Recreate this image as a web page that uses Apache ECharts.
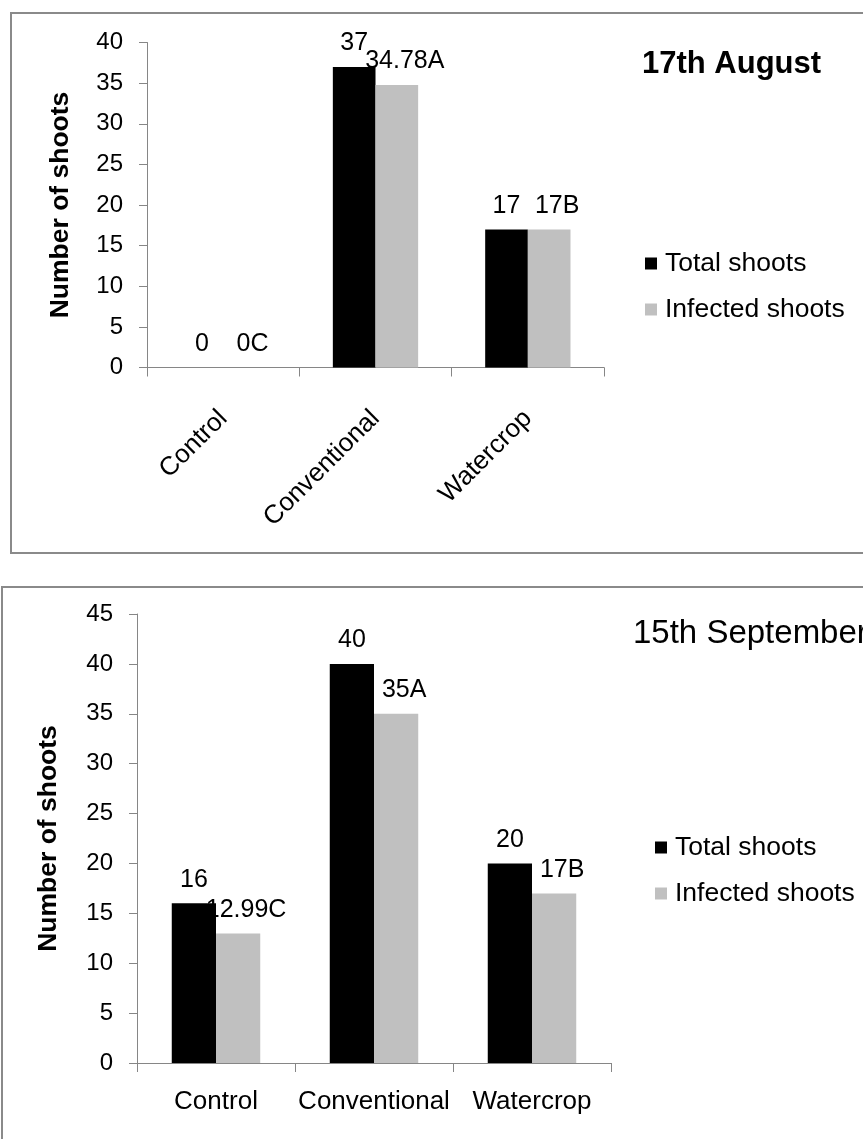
<!DOCTYPE html>
<html>
<head>
<meta charset="utf-8">
<script src="https://cdn.jsdelivr.net/npm/echarts@6/dist/echarts.min.js"></script>
<style>
html,body{margin:0;padding:0;background:#fff;}
#chart{width:863px;height:1139px;}
</style>
</head>
<body>
<div id="chart"></div>
<script>
// ---- data ----
var categories = ['Control', 'Conventional', 'Watercrop'];
var seriesNames = ['Total shoots', 'Infected shoots'];

var augTitle = '17th August';
var augTotal = [0, 37, 17];
var augInfected = [0, 34.78, 17];
var augLetters = ['C', 'A', 'B'];
var augYMax = 40;

var sepTitle = '15th September';
var sepTotal = [16, 40, 20];
var sepInfected = [12.99, 35, 17];
var sepLetters = ['C', 'A', 'B'];
var sepYMax = 45;

var yInterval = 5;
var yAxisName = 'Number of shoots';

// ---- styles ----
var FONT = '"Liberation Sans", Arial, Helvetica, sans-serif';
var AXIS_COLOR = '#868686';
var COLOR_TOTAL = '#000000';
var COLOR_INF = '#c0c0c0';

var chart = echarts.init(document.getElementById('chart'), null, {renderer: 'canvas'});

function xAxisCfg(gridIndex, rotated) {
  return {
    type: 'category',
    gridIndex: gridIndex,
    data: categories,
    axisLine: {lineStyle: {color: AXIS_COLOR, width: 1}},
    axisTick: {show: true, length: 9, lineStyle: {color: AXIS_COLOR}},
    axisLabel: rotated ? {
      rotate: 45, margin: 47, interval: 0, hideOverlap: false,
      fontFamily: FONT, fontSize: 26, color: '#000'
    } : {
      margin: 26, interval: 0, hideOverlap: false,
      fontFamily: FONT, fontSize: 26, color: '#000'
    }
  };
}
function yAxisCfg(gridIndex, max, gap) {
  return {
    type: 'value',
    gridIndex: gridIndex,
    min: 0, max: max, interval: yInterval,
    name: yAxisName,
    nameLocation: 'middle',
    nameGap: gap,
    nameTextStyle: {fontFamily: FONT, fontSize: 26.5, fontWeight: 'bold', color: '#000'},
    axisLine: {show: true, lineStyle: {color: AXIS_COLOR, width: 1}},
    axisTick: {show: true, length: 8, lineStyle: {color: AXIS_COLOR}},
    axisLabel: {margin: 24, fontFamily: FONT, fontSize: 24, color: '#000'},
    splitLine: {show: false}
  };
}
function barSeries(name, data, color, idx, letters) {
  return {
    name: name,
    type: 'bar',
    xAxisIndex: idx, yAxisIndex: idx,
    data: data,
    barGap: '0%',
    barCategoryGap: '44%',
    itemStyle: {color: color},
    label: {
      show: true, position: 'top', distance: 11,
      offset: letters ? [8, 0] : [0, 0],
      fontFamily: FONT, fontSize: 25, color: '#000',
      formatter: function (p) {
        return letters ? (p.value + letters[p.dataIndex]) : String(p.value);
      }
    }
  };
}
function legendCfg(left, top) {
  return {
    data: seriesNames, orient: 'vertical', left: left, top: top, padding: 0,
    itemWidth: 12, itemHeight: 12, itemGap: 19, icon: 'rect',
    textStyle: {fontFamily: FONT, fontSize: 26.5, lineHeight: 25, color: '#000', padding: [0, 0, 0, 3]}
  };
}

var option = {
  animation: false,
  backgroundColor: '#fff',
  textStyle: {fontFamily: FONT},
  graphic: [
    {type: 'rect', shape: {x: 11, y: 13, width: 900, height: 540},
     style: {fill: 'none', stroke: '#8a8a8a', lineWidth: 2}, silent: true},
    {type: 'rect', shape: {x: 2, y: 587, width: 900, height: 600},
     style: {fill: 'none', stroke: '#8a8a8a', lineWidth: 2}, silent: true}
  ],
  title: [
    {text: augTitle, left: 642, top: 49, padding: 0,
     textStyle: {fontFamily: FONT, fontSize: 31, fontWeight: 'bold', color: '#000'}},
    {text: sepTitle, left: 633, top: 617, padding: 0,
     textStyle: {fontFamily: FONT, fontSize: 33, fontWeight: 'normal', color: '#000'}}
  ],
  legend: [legendCfg(645, 250), legendCfg(655, 834)],
  grid: [
    {left: 147, top: 42.5, width: 457, height: 325, outerBoundsMode: 'none', containLabel: false},
    {left: 137, top: 614, width: 474, height: 449, outerBoundsMode: 'none', containLabel: false}
  ],
  xAxis: [xAxisCfg(0, true), xAxisCfg(1, false)],
  yAxis: [yAxisCfg(0, augYMax, 73), yAxisCfg(1, sepYMax, 75)],
  series: [
    barSeries(seriesNames[0], augTotal, COLOR_TOTAL, 0, null),
    barSeries(seriesNames[1], augInfected, COLOR_INF, 0, augLetters),
    barSeries(seriesNames[0], sepTotal, COLOR_TOTAL, 1, null),
    barSeries(seriesNames[1], sepInfected, COLOR_INF, 1, sepLetters)
  ]
};
chart.setOption(option);
</script>
</body>
</html>
